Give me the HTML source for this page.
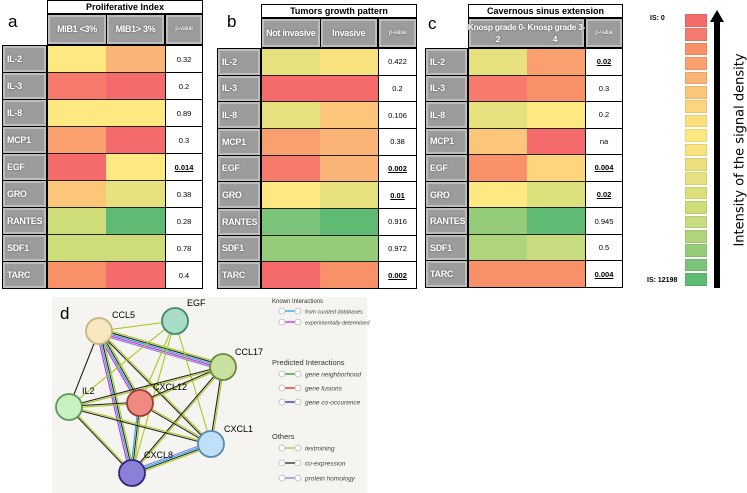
<!DOCTYPE html>
<html><head><meta charset="utf-8">
<style>
body{margin:0;width:747px;height:493px;background:#fff;position:relative;overflow:hidden;font-family:"Liberation Sans",sans-serif}
.abs{position:absolute;box-sizing:border-box}
.lab{background:#9c9c9c;border:1px solid #000;box-shadow:inset 0 0 0 2px #bdbdbd;color:#fff;font-weight:bold;font-size:9px;letter-spacing:-0.3px;padding-left:4px;display:flex;align-items:center;text-shadow:0 0 2px #555;white-space:nowrap;overflow:hidden}
.pv{background:#fff;border:1px solid #000;font-size:7.5px;display:flex;align-items:center;justify-content:center;color:#000}
.pv.sig{font-weight:bold;text-decoration:underline}
.title{background:#fff;border:1px solid #000;font-weight:bold;font-size:9px;display:flex;align-items:center;justify-content:center}
.sub{background:#9c9c9c;border:1px solid #000;box-shadow:inset 0 0 0 2px #bdbdbd;color:#fff;font-weight:bold;font-size:9px;display:flex;align-items:center;justify-content:center;text-align:center;line-height:11px;text-shadow:0 0 2px #555;white-space:nowrap;letter-spacing:-0.3px}
.letter{font-size:17px;color:#000}
</style></head><body>
<div class="abs letter" style="left:8px;top:12px">a</div>
<div class="abs letter" style="left:227px;top:12px">b</div>
<div class="abs letter" style="left:428px;top:14px">c</div>
<div id="root"></div>

<div class="abs" style="left:650px;top:15px;font-size:7px;font-weight:bold">IS: 0</div>
<div class="abs" style="left:647px;top:277px;font-size:7px;font-weight:bold">IS: 12198</div>
<div id="legend"></div>
<svg class="abs" style="left:708px;top:8px" width="20" height="282">
<polygon points="9,2 2,14 6,14 6,280 12,280 12,14 16,14" fill="#000"/></svg>
<div class="abs" style="left:740px;top:150px;width:0;height:0">
<div style="position:absolute;transform:translate(-50%,-50%) rotate(-90deg);white-space:nowrap;font-size:13px;font-family:'DejaVu Sans',sans-serif">Intensity of the signal density</div></div>

<svg class="abs" style="left:0;top:0" width="747" height="493" id="net"></svg>

<script>
const palette=["#f56a6a","#f77a6e","#f89068","#f9a06e","#fbb476","#fcc67a","#fdd57c","#fde07e","#fde882","#f8e27e","#ece07e","#e6e07e","#dbe07c","#cedd7a","#c8dc80","#b0d47a","#94cc7a","#7cc47a","#5fbb74"];
const cytokines=["IL-2","IL-3","IL-8","MCP1","EGF","GRO","RANTES","SDF1","TARC"];
const aTitle="Proliferative Index", aCols=["MIB1 <3%","MIB1> 3%"];
const aVals=[[8,4],[1,0],[8,8],[3,0],[0,8],[5,11],[13,18],[13,13],[2,0]];
const aP=["0.32","0.2","0.89","0.3","0.014","0.38","0.28","0.78","0.4"];
const aSig=[0,0,0,0,1,0,0,0,0];
const bTitle="Tumors growth pattern", bCols=["Not invasive","Invasive"];
const bVals=[[11,9],[0,0],[11,5],[3,4],[1,4],[8,11],[17,18],[16,16],[0,2]];
const bP=["0.422","0.2","0.106","0.38","0.002","0.01","0.916","0.972","0.002"];
const bSig=[0,0,0,0,1,1,0,0,1];
const cTitle="Cavernous sinus extension";
const cVals=[[11,3],[1,2],[11,8],[5,0],[2,6],[8,12],[16,18],[15,14],[2,2]];
const cP=["0.02","0.3","0.2","na","0.004","0.02","0.945","0.5","0.004"];
const cSig=[1,0,0,0,1,1,0,0,1];

const root=document.getElementById('root');
function box(cls,x,y,w,h,html,bg){const d=document.createElement('div');d.className='abs '+cls;d.style.cssText=`left:${x}px;top:${y}px;width:${w}px;height:${h}px;`+(bg?`background:${bg};`:'');d.innerHTML=html||'';root.appendChild(d);return d;}
function panel(id,g,title,cols,vals,ps,sig){
  const t=box('title',g.cx,g.ty,g.px+g.pw-g.cx,g.sy-g.ty,title);
  
  
  const cw=(g.px-g.cx)/2;
  if(cols){
    cols.forEach((c,i)=>{const s=box('sub',g.cx+i*cw,g.sy,cw+(i==0?1:0),g.ry-g.sy,c);
      
      });
  } else {
    const s=box('sub',g.cx,g.sy,g.px-g.cx,g.ry-g.sy,'<div style="font-size:8.5px;line-height:12px">Knosp grade 0- Knosp grade 3-<br><span style="display:inline-block;width:57px">2</span><span style="display:inline-block;width:57px">4</span></div>');
    
    
  }
  const ph=box('sub',g.px,g.sy,g.pw,g.ry-g.sy,'<span style="font-size:6px;font-weight:normal">p-value</span>');
  
  
  const rh=(g.rb-g.ry)/cytokines.length;
  cytokines.forEach((n,r)=>{
    const y=g.ry+r*rh;
    const l=box('lab',g.lx,y,g.cx-g.lx,rh+1,n);
    
    
    vals[r].forEach((v,i)=>{const c=box('',g.cx+i*cw,y,cw,rh,'',palette[v]);
      c.style.borderTop='1px solid #222';
      
      });
    const p=box('pv'+(sig[r]?' sig':''),g.px,y,g.pw,rh+1,ps[r]);
    
    
  });
  const fr=box('',g.cx,g.ry,g.px-g.cx+1,g.rb-g.ry+1,'');
  fr.style.border='1.5px solid #000';
  
  
}
panel('panel-a',{lx:2,cx:47,px:165,pw:38,ty:0,sy:14,ry:45,rb:288},aTitle,aCols,aVals,aP,aSig);
panel('panel-b',{lx:217,cx:261,px:378,pw:39,ty:4,sy:18,ry:48,rb:288},bTitle,bCols,bVals,bP,bSig);
panel('panel-c',{lx:425,cx:468,px:585,pw:38,ty:4,sy:18,ry:48,rb:287},cTitle,null,cVals,cP,cSig);

const lg=document.getElementById('legend');
palette.forEach((c,i)=>{const d=document.createElement('div');d.className='abs';
  d.style.cssText=`left:685px;top:${14+i*14.4}px;width:22px;height:12.5px;background:${c};border:1px solid rgba(0,0,0,0.08)`;
  
  
  lg.appendChild(d);});

const nodeNames=["CCL5","EGF","CCL17","CXCL12","IL2","CXCL1","CXCL8"];
const nodeX=[99,175,223,140,69,211,132], nodeY=[331,321,367,403,407,444,473];
const nodeFill=["#f6e7c0","#a8dcc8","#c8e0a0","#f08a80","#c8f0c0","#c0e0f8","#8a80d8"];
const nodeStroke=["#c9b47a","#3f8a6a","#6a8a3c","#a03a3a","#5a9a5a","#5a8ab0","#302880"];
const labelDX=[13,12,12,13,13,13,12], labelDY=[-13,-15,-12,-13,-13,-12,-15];
const edges=[[0,1,"y"],[0,2,"ykcmp"],[0,3,"ykcm"],[0,4,"k"],[0,5,"yk"],[0,6,"ykcm"],[1,3,"y"],[1,4,"y"],[1,5,"y"],[1,6,"y"],[2,3,"yk"],[2,4,"yk"],[2,5,"yk"],[2,6,"yk"],[3,4,"yk"],[3,5,"yk"],[3,6,"ykc"],[4,5,"yk"],[4,6,"yk"],[5,6,"ykcp"]];
const edgeColor={y:"#a8c820",k:"#222",c:"#20a8e0",m:"#e020d0",p:"#8080e0"};
const svg=document.getElementById('net');
const NS="http://www.w3.org/2000/svg";
function el(t,a,p){const e=document.createElementNS(NS,t);for(const k in a)e.setAttribute(k,a[k]);(p||svg).appendChild(e);return e;}
const bg=el('rect',{x:52,y:297,width:315,height:196,fill:"#f5f4f0"});


const dl=el('text',{x:60,y:319,'font-size':17,'font-family':"Liberation Sans"});dl.textContent='d';


edges.forEach(([a,b,t])=>{
  const x1=nodeX[a],y1=nodeY[a],x2=nodeX[b],y2=nodeY[b];
  const L=Math.hypot(x2-x1,y2-y1),nx=-(y2-y1)/L,ny=(x2-x1)/L;
  [...t].forEach((ch,i)=>{const o=(i-(t.length-1)/2)*1.6;
    const ln=el('line',{x1:x1+nx*o,y1:y1+ny*o,x2:x2+nx*o,y2:y2+ny*o,stroke:edgeColor[ch],'stroke-width':1.1});
    
    });
});
nodeNames.forEach((n,i)=>{
  const c=el('circle',{cx:nodeX[i],cy:nodeY[i],r:13,fill:nodeFill[i],stroke:nodeStroke[i],'stroke-width':1.8});
  
  
  const tx=el('text',{x:nodeX[i]+labelDX[i],y:nodeY[i]+labelDY[i],'font-size':9,'font-family':"Liberation Sans"});
  tx.textContent=n;
  
  
});
const legItems=[["Known Interactions",300,null,1],["from curated databases",311,"c"],["experimentally determined",322,"m"],
["Predicted Interactions",362,null,1],["gene neighborhood",374,"#20a020"],["gene fusions",388,"#e02020"],["gene co-occurence",402,"#2020e0"],
["Others",436,null,1],["textmining",448,"y"],["co-expression",463,"k"],["protein homology",478,"p"]];
legItems.forEach(([txt,y,col,h])=>{
  const g=el('g',{});
  
  
  if(h){const t=el('text',{x:272,y:y+3,'font-size':txt=="Known Interactions"?6:7.5,'font-family':"Liberation Sans",fill:"#333"},g);t.textContent=txt;return;}
  const c=edgeColor[col]||col;
  el('line',{x1:284,y1:y,x2:296,y2:y,stroke:c,'stroke-width':1.3},g);
  el('circle',{cx:282,cy:y,r:3,fill:"#fff",stroke:"#bbb",'stroke-width':0.8},g);
  el('circle',{cx:298,cy:y,r:3,fill:"#fff",stroke:"#bbb",'stroke-width':0.8},g);
  const t=el('text',{x:305,y:y+2.5,'font-size':txt.length>18?5.5:6.5,'font-style':'italic','font-family':"Liberation Sans",fill:"#444"},g);t.textContent=txt;
});
</script>
</body></html>
